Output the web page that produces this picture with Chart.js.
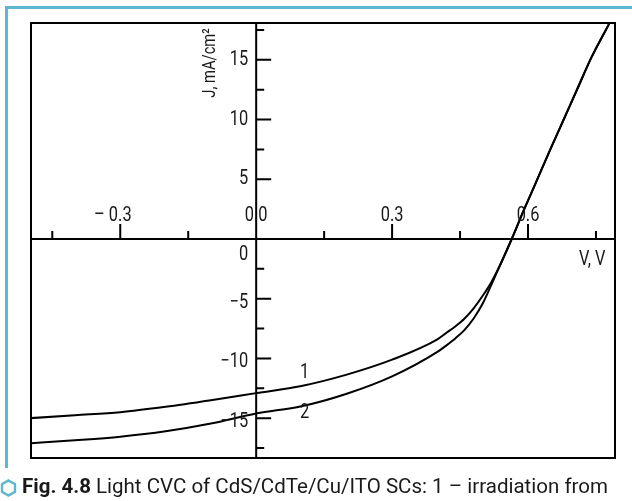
<!DOCTYPE html>
<html>
<head>
<meta charset="utf-8">
<script src="https://cdn.jsdelivr.net/npm/chart.js@4.4.1/dist/chart.umd.min.js"></script>
<style>
  html, body { margin: 0; padding: 0; background: #fff; }
  #wrap { position: relative; width: 632px; height: 501px; overflow: hidden; background: #fff; }
  #c { position: absolute; left: 0; top: 0; }
  .frTop { position: absolute; left: 5px; top: 6px; width: 627px; height: 2.5px; background: #5db7d3; }
  .frLeft { position: absolute; left: 5px; top: 6px; width: 2.5px; height: 462px; background: #5db7d3; }
  #hex { position: absolute; left: 0px; top: 479px; }
  #cap { position: absolute; left: 22px; top: 476px; white-space: nowrap; color: #1a1a1a;
         font-family: Roboto, 'Noto Sans', sans-serif; font-size: 20px; line-height: 20px;
         transform-origin: 0 0; }
  #cap b { font-weight: 700; }
</style>
</head>
<body>
<div id="wrap">
  <canvas id="c" width="632" height="501"></canvas>
  <div class="frTop"></div>
  <div class="frLeft"></div>
  <svg id="hex" width="17" height="18" viewBox="0 0 17 18"><polygon points="8.5,1.5 15,5.2 15,12.8 8.5,16.5 2,12.8 2,5.2" fill="none" stroke="#5db7d3" stroke-width="2.4"/></svg>
  <span id="cap"><b>Fig. 4.8</b> Light CVC of CdS/CdTe/Cu/ITO SCs: 1 – irradiation from</span>
</div>
<script>
// ---- data ----
const voltage  = [-0.5, -0.4, -0.3, -0.2, -0.1, 0, 0.1, 0.2, 0.3, 0.4, 0.42, 0.44, 0.46, 0.48, 0.5, 0.52, 0.54, 0.564, 0.59, 0.62, 0.65, 0.68, 0.71, 0.74, 0.781];
const current1 = [-15.0, -14.75, -14.5, -14.05, -13.5, -12.9, -12.3, -11.35, -10.1, -8.4, -7.85, -7.3, -6.65, -5.8, -4.75, -3.55, -2.05, 0, 2.35, 4.95, 7.56, 10.11, 12.66, 15.2, 18.15];
const current2 = [-17.1, -16.85, -16.55, -16.1, -15.45, -14.6, -14.0, -12.95, -11.5, -9.45, -8.9, -8.3, -7.6, -6.65, -5.4, -3.75, -2.05, 0, 2.35, 4.95, 7.56, 10.11, 12.66, 15.2, 18.15];
const seriesNames = ['1', '2'];
const seriesLabelAt = [[0.107, -11.2], [0.107, -14.6]];

const xMajorTicks  = [-0.3, 0, 0.3, 0.6];
const xMajorLabels = ['– 0.3', '0.0', '0.3', '0.6'];
const xMinorTicks  = [-0.45, -0.15, 0.15, 0.45, 0.75];
const yMajorTicks  = [15, 10, 5, -5, -10, -15];
const yMajorLabels = ['15', '10', '5', '−5', '−10', '−15'];
const yMinorTicks  = [17.5, 12.5, 7.5, -2.5, -7.5, -12.5, -17.5];
const yZeroLabel = '0';
const xTitle = 'V, V';
const yTitle = 'J, mA/cm²';

const FONT = "Roboto, 'Noto Sans', sans-serif";
const INK = '#1a1a1a';
const NARROW = 0.82;

function narrowText(ctx, text, x, y, align) {
  ctx.save();
  ctx.translate(x, y);
  ctx.scale(NARROW, 1);
  ctx.textAlign = align;
  ctx.fillText(text, 0, 0);
  ctx.restore();
}

const crossAxes = {
  id: 'crossAxes',
  beforeDatasetsDraw(chart) {
    const { ctx, chartArea: a, scales: { x, y } } = chart;
    const x0 = x.getPixelForValue(0), y0 = y.getPixelForValue(0);
    ctx.save();
    ctx.strokeStyle = '#000';
    ctx.lineWidth = 2;
    ctx.strokeRect(a.left, a.top, a.right - a.left, a.bottom - a.top);
    ctx.beginPath();
    ctx.moveTo(a.left, y0); ctx.lineTo(a.right, y0);
    ctx.moveTo(x0, a.top); ctx.lineTo(x0, a.bottom);
    xMajorTicks.forEach(v => { if (v !== 0) { const px = x.getPixelForValue(v); ctx.moveTo(px, y0); ctx.lineTo(px, y0 - 15); } });
    xMinorTicks.forEach(v => { const px = x.getPixelForValue(v); ctx.moveTo(px, y0); ctx.lineTo(px, y0 - 8); });
    yMajorTicks.forEach(v => { const py = y.getPixelForValue(v); ctx.moveTo(x0, py); ctx.lineTo(x0 + 15, py); });
    yMinorTicks.forEach(v => { const py = y.getPixelForValue(v); ctx.moveTo(x0, py); ctx.lineTo(x0 + 8, py); });
    ctx.stroke();
    ctx.restore();
  },
  afterDatasetsDraw(chart) {
    const { ctx, chartArea: a, scales: { x, y } } = chart;
    const x0 = x.getPixelForValue(0), y0 = y.getPixelForValue(0);
    ctx.save();
    ctx.fillStyle = INK;
    ctx.font = '20px ' + FONT;
    ctx.textBaseline = 'middle';
    const half = ctx.measureText('0.0').width * NARROW / 2;
    xMajorTicks.forEach((v, i) => {
      narrowText(ctx, xMajorLabels[i], x.getPixelForValue(v) + half, y0 - 23, 'right');
    });
    yMajorTicks.forEach((v, i) => {
      narrowText(ctx, yMajorLabels[i], x0 - 8, y.getPixelForValue(v) + (v < 0 ? 4 : 0), 'right');
    });
    narrowText(ctx, yZeroLabel, x0 - 8, y0 + 16, 'right');
    narrowText(ctx, xTitle, a.right - 36, y0 + 21, 'left');
    seriesLabelAt.forEach((p, i) => {
      narrowText(ctx, seriesNames[i], x.getPixelForValue(p[0]), y.getPixelForValue(p[1]), 'center');
    });
    ctx.font = '18px ' + FONT;
    ctx.save();
    ctx.translate(x0 - 46, a.top + 40);
    ctx.rotate(-Math.PI / 2);
    narrowText(ctx, yTitle, 0, 0, 'center');
    ctx.restore();
    ctx.restore();
  }
};

const toPoints = arr => voltage.map((v, i) => ({ x: v, y: arr[i] }));

new Chart(document.getElementById('c'), {
  type: 'line',
  data: {
    datasets: [
      { label: seriesNames[0], data: toPoints(current1), borderColor: '#000', borderWidth: 2, pointRadius: 0, cubicInterpolationMode: 'monotone', fill: false },
      { label: seriesNames[1], data: toPoints(current2), borderColor: '#000', borderWidth: 2, pointRadius: 0, cubicInterpolationMode: 'monotone', fill: false }
    ]
  },
  options: {
    responsive: false,
    animation: false,
    devicePixelRatio: 1,
    events: [],
    layout: { padding: { left: 31, top: 23, right: 17, bottom: 43 } },
    plugins: { legend: { display: false }, tooltip: { enabled: false } },
    scales: {
      x: { type: 'linear', min: -0.497, max: 0.792, display: false },
      y: { type: 'linear', min: -18.33, max: 18.08, display: false }
    }
  },
  plugins: [crossAxes]
});

// condense the caption to the reference's width
const cap = document.getElementById('cap');
const w = cap.getBoundingClientRect().width;
cap.style.transform = 'scaleX(' + (586 / w) + ')';
</script>
</body>
</html>
